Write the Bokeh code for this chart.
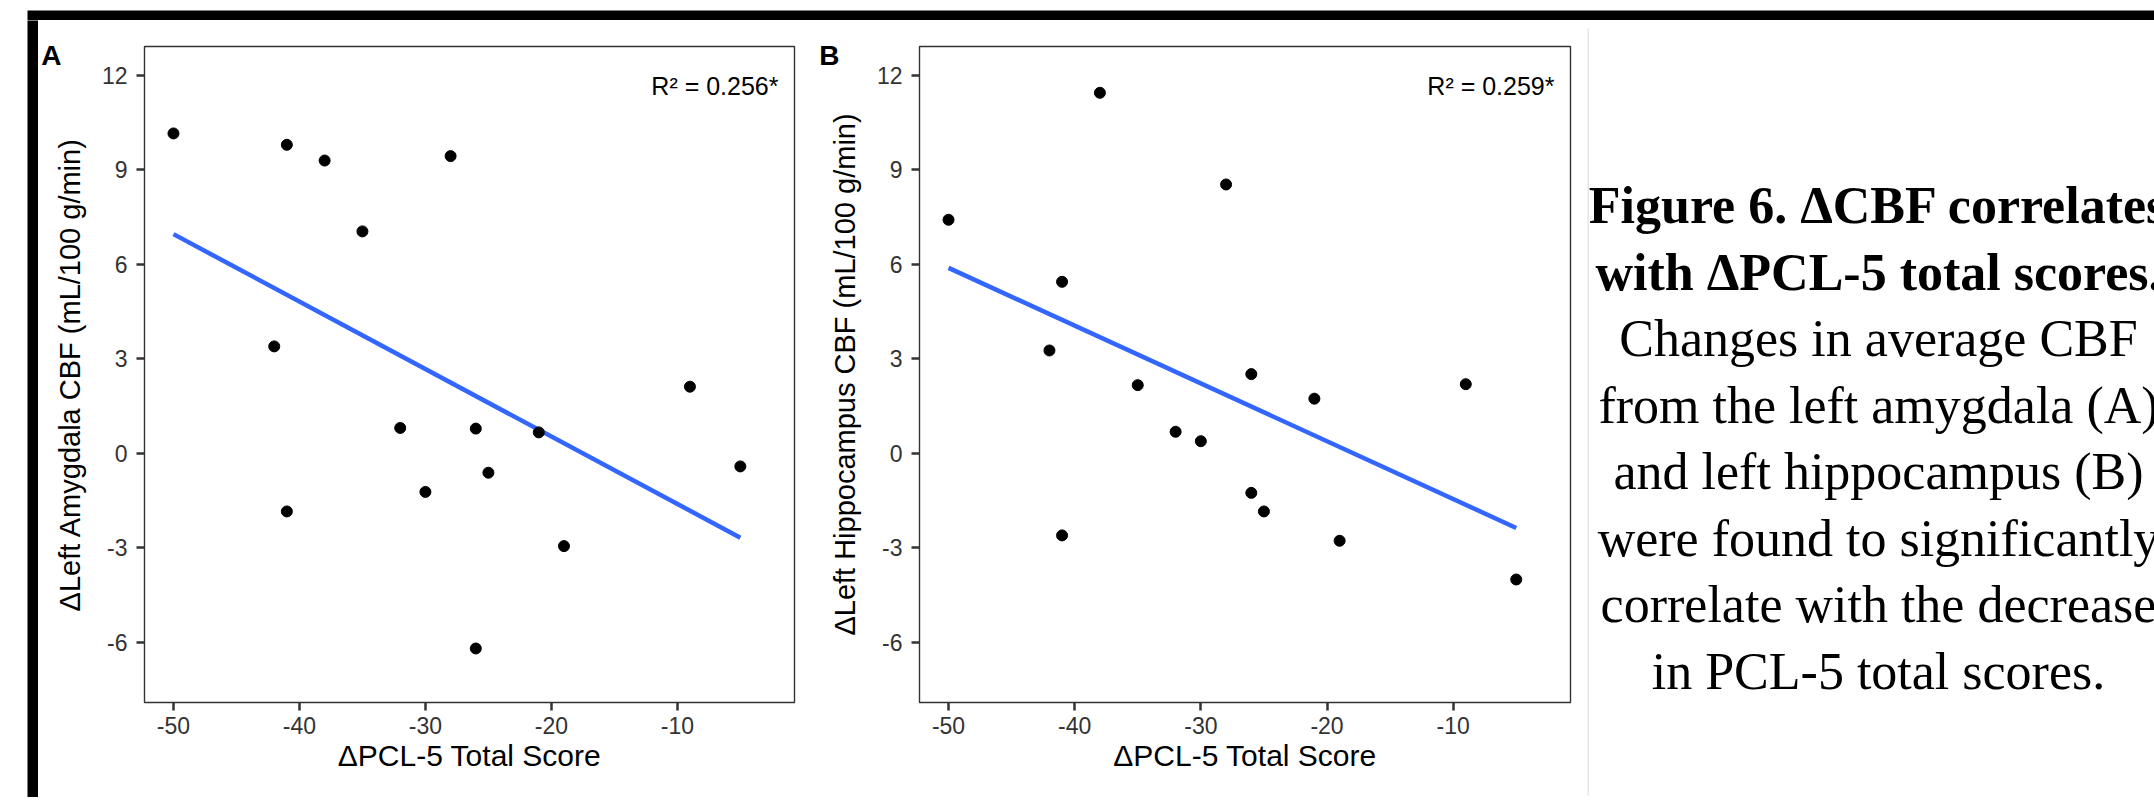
import numpy as np
from bokeh.plotting import figure
from bokeh.layouts import row, column
from bokeh.models import Range1d, FixedTicker, Label, Spacer, LinearAxis
from bokeh.core.properties import value
from bokeh.embed import file_html
from bokeh.resources import INLINE

# ---------------- data ----------------
pcl_change = [-50, -42, -41, -41, -38, -35, -32, -30, -28, -26, -26, -25, -21, -19, -9, -5]
amygdala_cbf = [10.16, 3.40, 9.80, -1.84, 9.30, 7.05, 0.81, -1.22, 9.44, 0.79, -6.19, -0.61, 0.67, -2.94, 2.12, -0.41]
hippocampus_cbf = [7.42, 3.27, 5.45, -2.60, 11.45, 2.17, 0.69, 0.39, 8.54, 2.52, -1.25, -1.84, 1.74, -2.77, 2.20, -4.00]

x_ticks = [-50, -40, -30, -20, -10]
y_ticks = [-6, -3, 0, 3, 6, 9, 12]
r2_labels = ["R\u00b2 = 0.256*", "R\u00b2 = 0.259*"]
panel_letters = ["A", "B"]
y_titles = ["\u0394Left Amygdala CBF (mL/100 g/min)", "\u0394Left Hippocampus CBF (mL/100 g/min)"]
x_title = "\u0394PCL-5 Total Score"
caption_bold = ["Figure 6. \u0394CBF correlates", "with \u0394PCL-5 total scores."]
caption_plain = ["Changes in average CBF", "from the left amygdala (A)", "and left hippocampus (B)",
                 "were found to significantly", "correlate with the decrease", "in PCL-5 total scores."]

SANS = "Liberation Sans"
SERIF = "Liberation Serif"


def strip(w, h, color):
    p = figure(width=w, height=h, toolbar_location=None, output_backend="svg",
               x_axis_type=None, y_axis_type=None, min_border=0,
               background_fill_color=color, border_fill_color=color, outline_line_color=None)
    return p


def panel(yvals, letter, ytitle, r2, w, left, right, fw, letter_standoff):
    p = figure(width=w, height=765, x_range=Range1d(-52.3, -0.7), y_range=Range1d(-7.905, 12.92),
               toolbar_location=None, output_backend="svg",
               min_border_left=left, min_border_right=right, min_border_top=17, min_border_bottom=92,
               background_fill_color="white", border_fill_color="white",
               outline_line_color="#333333", outline_line_width=1.4)
    p.grid.visible = False
    p.xaxis.ticker = FixedTicker(ticks=x_ticks)
    p.yaxis.ticker = FixedTicker(ticks=y_ticks)
    p.xaxis.major_label_overrides = {t: str(t) for t in x_ticks}
    p.yaxis.major_label_overrides = {t: str(t) for t in y_ticks}
    p.xaxis.axis_label = x_title
    p.yaxis.axis_label = ytitle
    for ax in (p.xaxis[0], p.yaxis[0]):
        ax.axis_line_color = None
        ax.major_tick_line_color = "#333333"
        ax.major_tick_line_width = 2.5
        ax.major_tick_out = 8
        ax.major_tick_in = 0
        ax.minor_tick_line_color = None
        ax.major_label_text_font = SANS
        ax.major_label_text_font_size = "23px"
        ax.major_label_text_color = "#333333"
        ax.axis_label_text_font = SANS
        ax.axis_label_text_font_style = "normal"
        ax.axis_label_text_color = "black"
    p.xaxis.axis_label_text_font_size = "30px"
    p.yaxis.axis_label_text_font_size = "29px"
    p.xaxis.major_label_standoff = 6
    p.xaxis.axis_label_standoff = 2
    p.yaxis.major_label_standoff = 9
    p.yaxis.axis_label_standoff = 13

    # panel letter, drawn as an outer left axis carrying a single label
    letter_axis = LinearAxis(ticker=FixedTicker(ticks=[12.64]),
                             major_label_overrides={12.64: letter},
                             axis_line_color=None, major_tick_line_color=None,
                             minor_tick_line_color=None, major_tick_out=0, major_tick_in=0,
                             major_label_standoff=letter_standoff,
                             major_label_text_font=SANS, major_label_text_font_size="28px",
                             major_label_text_font_style="bold", major_label_text_color="black")
    p.add_layout(letter_axis, "left")

    xs = np.array(pcl_change, dtype=float)
    ys = np.array(yvals, dtype=float)
    slope, intercept = np.polyfit(xs, ys, 1)
    fx = np.array([xs.min(), xs.max()])
    p.line(fx, intercept + slope * fx, line_color="#3366FF", line_width=4.5)
    p.scatter(xs, ys, size=11, color="black")

    p.add_layout(Label(x=fw - 16, y=617, x_units="screen", y_units="screen", text=r2,
                       text_align="right", text_baseline="alphabetic",
                       text_font=SANS, text_font_size="25px", text_color="black"))
    return p


figA = panel(amygdala_cbf, panel_letters[0], y_titles[0], r2_labels[0], 762, 106, 6, 650, -11)
figB = panel(hippocampus_cbf, panel_letters[1], y_titles[1], r2_labels[1], 787, 119, 17, 651, -14)

CAP_W, CAP_H = 567, 777
cap = figure(width=CAP_W, height=CAP_H, x_range=Range1d(0, CAP_W), y_range=Range1d(CAP_H, 0),
             toolbar_location=None, output_backend="svg", x_axis_type=None, y_axis_type=None,
             min_border=0, outline_line_color=None,
             background_fill_color="white", border_fill_color="white")
cap.segment(x0=[0.5], y0=[8], x1=[0.5], y1=[775], line_color="#cccccc", line_width=1)
line_gap = 66.5
cx = 291
cap.text(x=[cx] * len(caption_bold), y=[185 + line_gap * i for i in range(len(caption_bold))],
         text=caption_bold, text_font=value(SERIF), text_font_size="52px", text_font_style="bold",
         text_align="center", text_baseline="alphabetic", text_color="black")
n0 = len(caption_bold)
cap.text(x=[cx] * len(caption_plain),
         y=[185 + line_gap * (i + n0) for i in range(len(caption_plain))],
         text=caption_plain, text_font=value(SERIF), text_font_size="52px",
         text_align="center", text_baseline="alphabetic", text_color="black")

inner = column(Spacer(width=1549, height=8), strip(1549, 1, "#cccccc"), row(figA, figB),
               strip(1549, 1, "#cccccc"), Spacer(width=1549, height=2))
midrow = row(strip(11, 777, "black"), inner, cap)
rightcol = column(Spacer(width=2127, height=9), strip(2127, 11, "black"), midrow,
                  strip(2127, 6, "black"))
root = row(Spacer(width=27, height=803), rightcol)

open("out.html", "w").write(file_html(root, INLINE))
